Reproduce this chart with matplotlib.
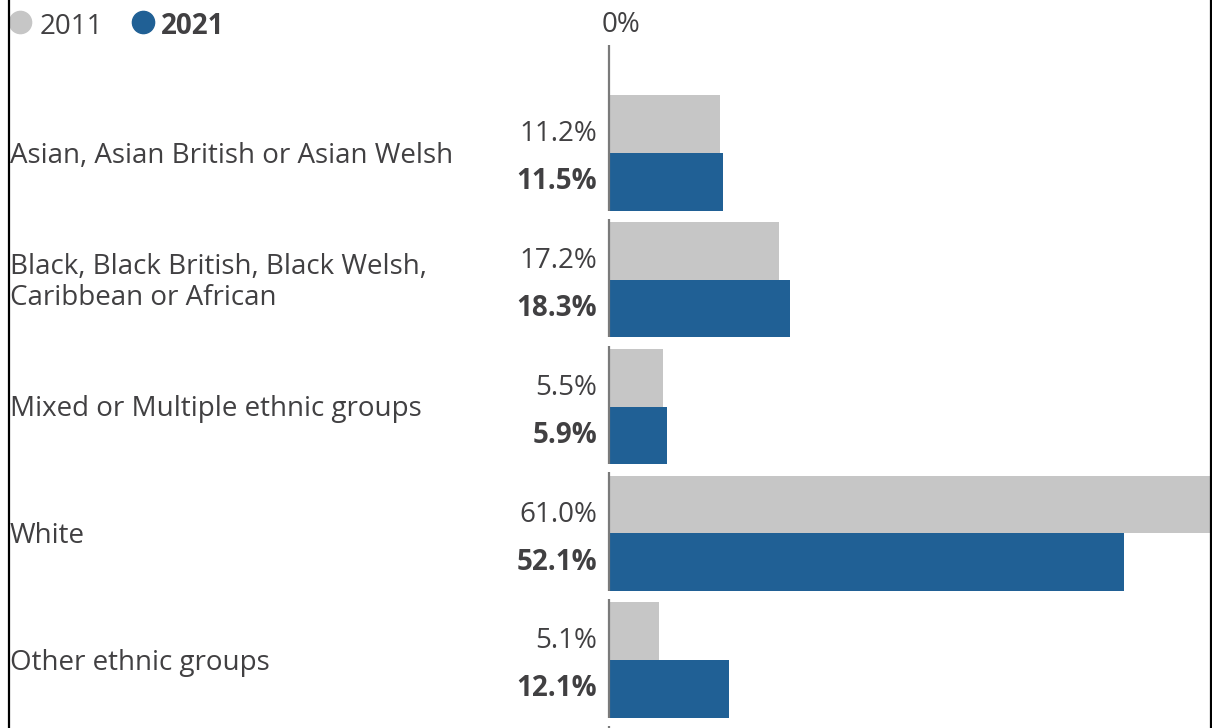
import matplotlib.pyplot as plt
import matplotlib.transforms as mtransforms
from matplotlib.lines import Line2D

plt.rcParams['font.family'] = ['Open Sans', 'DejaVu Sans']

# Ethnic group shares, 2011 vs 2021
groups = [
    "Asian, Asian British or Asian Welsh",
    "Black, Black British, Black Welsh,\nCaribbean or African",
    "Mixed or Multiple ethnic groups",
    "White",
    "Other ethnic groups",
]
share_2011 = [11.2, 17.2, 5.5, 61.0, 5.1]
share_2021 = [11.5, 18.3, 5.9, 52.1, 12.1]
years = ["2011", "2021"]

grey = "#c6c6c6"
blue = "#206095"
text_col = "#414042"
fs = 20

W, H = 1212, 728
fig = plt.figure(figsize=(W / 100, H / 100), dpi=100)

# plot area starts at the zero line and runs to the right edge
x0 = 609
ax = fig.add_axes([x0 / W, 0, (W - x0) / W, 1])
ax.set_xlim(0, 61.0)

# y in group units: group i has its grey/blue boundary at y = i
top_px, step_px = 153, 126.75
ax.set_ylim((H - top_px) / step_px, -top_px / step_px)
ax.axis("off")

bar_h = 0.455
pos = list(range(len(groups)))
ax.barh([p - bar_h / 2 for p in pos], share_2011, height=bar_h, color=grey, zorder=2)
ax.barh([p + bar_h / 2 for p in pos], share_2021, height=bar_h, color=blue, zorder=2)

# zero line, broken between groups
gap = 0.065
y_start = (45 - top_px) / step_px
for i in range(len(groups) + 1):
    start = y_start if i == 0 else i - 1 + bar_h + gap
    end = i + bar_h if i < len(groups) else i + 1
    ax.plot([0, 0], [start, end], color="#7a7a7a", lw=1.6, zorder=3,
            solid_capstyle="butt", clip_on=False)

# labels in figure pixels horizontally, data units vertically
trans = mtransforms.blended_transform_factory(
    mtransforms.Affine2D().scale(1 / W, 1) + fig.transFigure, ax.transData)

for i, (g, a, b) in enumerate(zip(groups, share_2011, share_2021)):
    ax.text(10, i + 0.02, g, transform=trans, ha="left", va="center",
            fontsize=fs, color=text_col, linespacing=1.12)
    ax.text(597, i - bar_h / 2 + 0.08, f"{a:.1f}%", transform=trans,
            ha="right", va="center", fontsize=fs, color=text_col)
    ax.text(597, i + bar_h / 2, f"{b:.1f}%", transform=trans,
            ha="right", va="center", fontsize=fs, color=text_col,
            fontweight="bold")

# legend and axis label along the top
fy = 1 - 27 / H
fig.add_artist(Line2D([20 / W], [1 - 22 / H], marker="o", markersize=16,
                      color=grey, linestyle="none"))
fig.text(40 / W, fy, years[0], ha="left", va="center", fontsize=fs, color=text_col)
fig.add_artist(Line2D([143 / W], [1 - 22 / H], marker="o", markersize=16,
                      color=blue, linestyle="none"))
fig.text(161 / W, fy, years[1], ha="left", va="center", fontsize=fs,
         color=text_col, fontweight="bold")
fig.text(621 / W, 1 - 25 / H, "0%", ha="center", va="center", fontsize=fs,
         color=text_col)

# frame lines at the left and right edges
fig.add_artist(Line2D([8.5 / W, 8.5 / W], [0, 1], color="black", lw=1.6))
fig.add_artist(Line2D([1210.5 / W, 1210.5 / W], [0, 1], color="black", lw=1.6))

fig.savefig("out.png", dpi=100)
